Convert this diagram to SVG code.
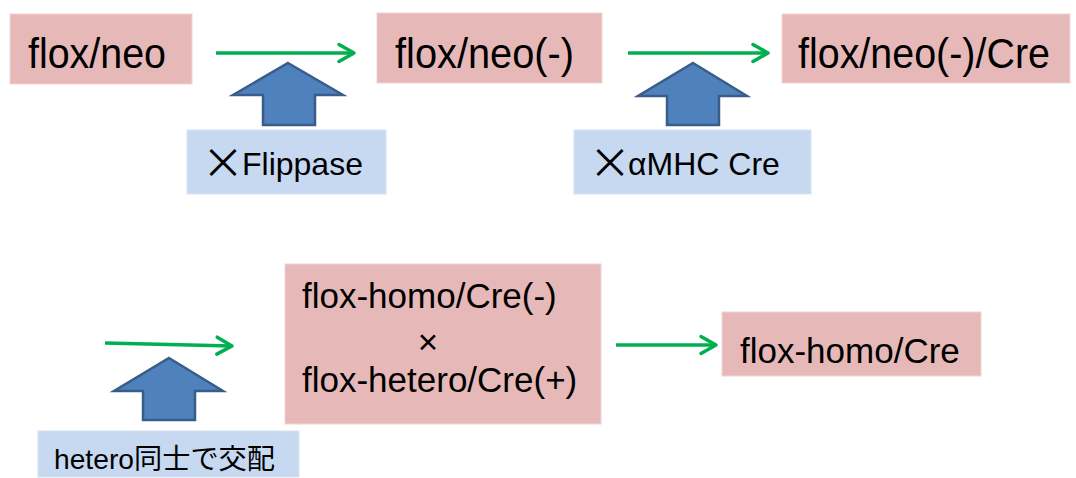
<svg xmlns="http://www.w3.org/2000/svg" width="1076" height="478" viewBox="0 0 1076 478">
<style>
.pink{fill:#e6b9b8;stroke:#f0d4d3;stroke-width:1}
.blue{fill:#c6d9f1;stroke:#d6e3f4;stroke-width:1}
.t{font-family:"Liberation Sans","Noto Sans CJK JP",sans-serif;fill:#000}
.big{font-size:42px}
.mid{font-size:35px}
.lab{font-size:32px}
.x{font-family:"Noto Sans CJK JP","Liberation Sans",sans-serif;font-size:42px;fill:#000}
.g{fill:none;stroke:#00b050;stroke-width:3.5}
.blk{fill:#4f81bd;stroke:#385d8a;stroke-width:2.5;stroke-linejoin:miter}
</style>
<defs>
<marker id="ah" markerUnits="userSpaceOnUse" markerWidth="30" markerHeight="30" viewBox="-20 -15 30 30" refX="0" refY="0" orient="auto">
<path d="M-15,-8.5 L0,0 L-15,8.5" fill="none" stroke="#00b050" stroke-width="3.5" stroke-linecap="round" stroke-linejoin="round"/>
</marker>
</defs>
<g id="connectors">
<line class="g" x1="216" y1="53" x2="354" y2="53" marker-end="url(#ah)"/>
<line class="g" x1="628" y1="53" x2="768" y2="53" marker-end="url(#ah)"/>
<line class="g" x1="105" y1="343" x2="232" y2="346" marker-end="url(#ah)"/>
<line class="g" x1="616" y1="345" x2="716" y2="345" marker-end="url(#ah)"/>
<path class="blk" d="M288,63 L343,95 L315,95 L315,125 L263,125 L263,95 L233,95 Z"/>
<path class="blk" d="M693,63 L747,96 L719,96 L719,125 L667,125 L667,96 L638,96 Z"/>
<path class="blk" d="M169,358 L223,391 L195,391 L195,420 L143,420 L143,391 L114,391 Z"/>
</g>
<g id="n-flox-neo">
<rect class="pink" x="10" y="14" width="182" height="70"/>
<text class="t big" x="28" y="68" textLength="138" lengthAdjust="spacingAndGlyphs">flox/neo</text>
</g>
<g id="n-flox-neo-minus">
<rect class="pink" x="377" y="13" width="225" height="70"/>
<text class="t big" x="395" y="68" textLength="179" lengthAdjust="spacingAndGlyphs">flox/neo(-)</text>
</g>
<g id="n-flox-neo-minus-cre">
<rect class="pink" x="782" y="14" width="288" height="69"/>
<text class="t big" x="798" y="68" textLength="252" lengthAdjust="spacingAndGlyphs">flox/neo(-)/Cre</text>
</g>
<g id="n-flippase">
<rect class="blue" x="187" y="130" width="199" height="64"/>
<text class="x" x="202" y="178">×</text>
<text class="t lab" x="242" y="175">Flippase</text>
</g>
<g id="n-amhc-cre">
<rect class="blue" x="574" y="130" width="237" height="64"/>
<text class="x" x="589" y="178">×</text>
<text class="t lab" x="628" y="175">αMHC Cre</text>
</g>
<g id="n-cross">
<rect class="pink" x="285" y="264" width="316" height="160"/>
<text class="t mid" x="302" y="308">flox-homo/Cre(-)</text>
<text class="t mid" x="428" y="354" text-anchor="middle">×</text>
<text class="t mid" x="302" y="392">flox-hetero/Cre(+)</text>
</g>
<g id="n-flox-homo-cre">
<rect class="pink" x="722" y="312" width="259" height="64"/>
<text class="t mid" x="740" y="363">flox-homo/Cre</text>
</g>
<g id="n-hetero">
<rect class="blue" x="38" y="431" width="261" height="46"/>
<text class="t" x="54" y="469" font-size="28" textLength="221" lengthAdjust="spacingAndGlyphs">hetero同士で交配</text>
</g>
</svg>
